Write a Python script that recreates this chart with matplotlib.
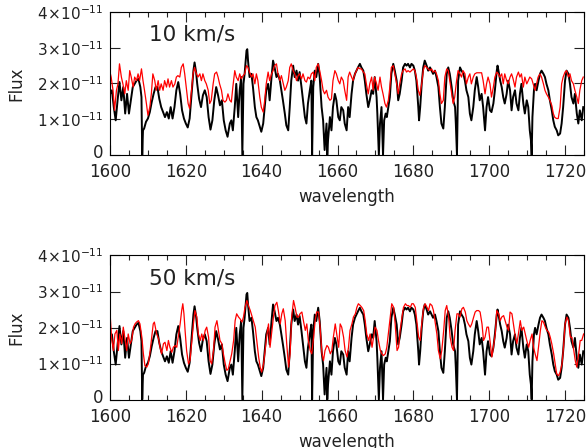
import matplotlib
matplotlib.use("Agg")
import matplotlib.pyplot as plt
from matplotlib.ticker import MultipleLocator
import matplotlib.transforms as mtransforms

# observed spectrum (flux in units of 1e-11)
wl_obs = [1600.0, 1600.5, 1601.0, 1601.5, 1602.0, 1602.5, 1603.0, 1603.5, 1604.0, 1604.5,
          1605.0, 1605.5, 1606.0, 1606.5, 1607.0, 1607.5, 1608.0, 1608.3, 1608.5, 1608.7,
          1609.0, 1609.5, 1610.0, 1610.5, 1611.0, 1611.5, 1612.0, 1612.5, 1613.0, 1613.5,
          1614.0, 1614.5, 1615.0, 1615.5, 1616.0, 1616.5, 1617.0, 1617.5, 1618.0, 1618.5,
          1619.0, 1619.5, 1620.0, 1620.5, 1621.0, 1621.5, 1622.0, 1622.3, 1622.7, 1623.0,
          1623.5, 1624.0, 1624.5, 1625.0, 1625.5, 1626.0, 1626.5, 1627.0, 1627.5, 1628.0,
          1628.5, 1629.0, 1629.5, 1630.0, 1630.5, 1631.0,
          1631.6, 1632.0, 1632.4, 1632.9, 1633.3, 1633.8, 1634.2, 1634.6, 1634.9, 1635.2,
          1635.5, 1636.0, 1636.2, 1636.4, 1636.8, 1637.3, 1637.7, 1638.2, 1638.6, 1639.0,
          1639.5, 1639.9, 1640.4, 1640.8, 1641.2, 1641.7, 1642.1, 1642.6, 1643.0, 1643.4,
          1643.9, 1644.3, 1644.8, 1645.2, 1645.6, 1646.1, 1646.5, 1647.0, 1647.4, 1647.8,
          1648.3, 1648.7, 1649.2, 1649.6, 1650.0, 1650.5, 1650.9, 1651.4, 1651.8, 1652.2,
          1652.7, 1653.1, 1653.3, 1653.6, 1654.0, 1654.4, 1654.9, 1655.3, 1655.8, 1656.2,
          1656.6, 1657.1, 1657.3, 1657.5, 1658.0, 1658.4, 1658.8, 1659.3, 1659.7, 1660.2,
          1660.6, 1661.0, 1661.5, 1661.9, 1662.4,
          1662.8, 1663.2, 1663.7, 1664.1, 1664.6, 1665.0, 1665.4, 1665.9, 1666.3, 1666.8,
          1667.2, 1667.6, 1668.1, 1668.5, 1669.0, 1669.4, 1669.8, 1670.3, 1670.5, 1670.9,
          1671.2, 1671.6, 1672.0, 1672.3, 1672.7, 1673.0, 1673.4, 1673.8, 1674.2, 1674.7,
          1675.1, 1675.6, 1676.0, 1676.4, 1676.9, 1677.3, 1677.8, 1678.2, 1678.6, 1679.1,
          1679.5, 1680.0, 1680.4, 1680.8, 1681.3, 1681.5, 1681.8, 1682.2, 1682.6, 1683.0,
          1683.5, 1683.9, 1684.4, 1684.8, 1685.2, 1685.7, 1686.1, 1686.6, 1687.0, 1687.4,
          1687.9, 1688.3, 1688.8, 1689.2, 1689.6, 1690.1, 1690.5, 1691.0, 1691.2, 1691.5,
          1691.8, 1692.3, 1692.7, 1693.2, 1693.6, 1694.0,
          1694.5, 1694.9, 1695.3, 1695.8, 1696.2, 1696.7, 1697.1, 1697.5, 1698.0, 1698.4,
          1698.9, 1699.3, 1699.7, 1700.2, 1700.6, 1701.1, 1701.5, 1702.0, 1702.2, 1702.6,
          1702.9, 1703.3, 1703.7, 1704.1, 1704.6, 1705.0, 1705.5, 1705.9, 1706.3, 1706.8,
          1707.2, 1707.7, 1708.1, 1708.5, 1709.0, 1709.4, 1709.9, 1710.3, 1710.7, 1711.0,
          1711.2, 1711.4, 1711.8, 1712.1, 1712.5, 1713.0, 1713.4, 1713.8, 1714.3, 1714.7,
          1715.1, 1715.6, 1716.0, 1716.5, 1716.9, 1717.3, 1717.8, 1718.2, 1718.7, 1719.1,
          1719.5, 1720.0, 1720.4, 1720.9, 1721.3, 1721.7, 1722.2, 1722.6, 1723.1, 1723.5,
          1723.9, 1724.4, 1724.8]
flux_obs = [1.70, 1.81, 1.34, 0.97, 1.53, 2.04, 1.53, 1.90, 1.16, 1.71,
            1.16, 1.53, 1.90, 1.99, 2.08, 2.13, 1.90, 1.62, 0.00, 0.69,
            0.74, 0.93, 1.02, 1.20, 1.48, 1.71, 1.90, 1.90, 1.57, 1.34,
            1.20, 1.06, 1.20, 1.02, 1.34, 1.02, 1.34, 1.81, 2.04, 1.71,
            1.25, 1.02, 0.88, 0.77, 1.02, 1.71, 2.36, 2.59, 2.32, 1.99,
            1.57, 1.34, 1.67, 1.81, 1.62, 1.06, 0.71, 0.97, 1.53, 1.90,
            1.67, 1.39, 1.53, 0.97, 0.69, 0.51,
            0.88, 0.97, 0.69, 1.34, 1.99, 1.06, 1.81, 2.18, 0.00, 1.99,
            2.27, 2.92, 2.96, 2.64, 2.18, 2.27, 1.90, 1.34, 1.06, 0.97,
            0.79, 0.65, 0.88, 1.34, 1.81, 1.99, 1.53, 2.18, 2.64, 2.45,
            2.18, 2.27, 2.08, 1.81, 1.53, 1.16, 0.83, 0.69, 1.34, 2.08,
            2.50, 2.18, 2.36, 2.08, 2.32, 1.90, 1.53, 1.06, 0.88, 1.44,
            1.81, 2.08, 0.00, 1.90, 2.36, 2.18, 2.55, 2.18, 1.34, 0.97,
            0.14, 0.88, 0.00, 0.42, 1.06, 0.69, 1.34, 1.71, 1.53, 1.06,
            0.97, 1.34, 1.25, 0.88, 0.69,
            1.34, 1.06, 1.71, 2.08, 2.27, 2.36, 2.45, 2.55, 2.45, 2.36,
            2.08, 1.71, 1.34, 1.53, 1.81, 1.71, 2.18, 1.62, 1.16, 0.00,
            0.88, 1.34, 0.00, 0.97, 1.16, 1.06, 1.34, 1.62, 2.27, 2.55,
            2.36, 2.08, 1.53, 1.71, 2.08, 2.45, 2.55, 2.50, 2.55, 2.45,
            2.55, 2.50, 2.36, 2.08, 1.34, 0.97, 1.34, 1.99, 2.45, 2.64,
            2.50, 2.36, 2.45, 2.36, 2.27, 2.36, 2.18, 1.90, 1.34, 0.88,
            0.74, 1.34, 2.27, 2.45, 2.27, 1.90, 1.53, 1.34, 0.88, 0.00,
            2.08, 2.45, 2.36, 2.27, 2.08, 1.81,
            1.62, 1.16, 0.97, 1.34, 1.81, 2.18, 1.90, 1.53, 1.71, 1.34,
            0.69, 1.34, 1.62, 1.25, 1.20, 1.44, 1.81, 2.36, 2.50, 2.27,
            2.08, 1.90, 1.62, 1.44, 1.71, 2.08, 1.81, 1.25, 1.62, 1.81,
            1.44, 1.25, 1.71, 1.99, 1.44, 1.16, 1.53, 1.34, 0.69, 0.42,
            0.00, 1.06, 1.81, 1.99, 1.81, 2.08, 2.27, 2.36, 2.27, 2.18,
            1.99, 1.81, 1.53, 1.25, 0.97, 0.79, 0.69, 0.55, 0.60, 0.88,
            1.34, 2.08, 2.36, 2.27, 1.99, 1.62, 1.44, 1.71, 1.16, 0.88,
            1.25, 0.97, 1.34]

# model broadened with 10 km/s
wl_10 = [1600.0, 1600.3, 1600.8, 1601.2, 1601.7, 1602.1, 1602.5, 1603.0, 1603.4, 1603.9,
         1604.3, 1604.8, 1605.2, 1605.6, 1606.1, 1606.5, 1607.0, 1607.4, 1607.8, 1608.3,
         1608.7, 1609.1, 1609.6, 1610.0, 1610.5, 1610.9, 1611.3, 1611.8, 1612.2, 1612.7,
         1613.1, 1613.5, 1614.0, 1614.4, 1614.9, 1615.3, 1615.7, 1616.2, 1616.6, 1617.1,
         1617.5, 1617.9, 1618.4, 1618.8, 1619.3, 1619.7, 1620.1, 1620.6, 1621.0, 1621.5,
         1621.9, 1622.3, 1622.8, 1623.2, 1623.7, 1624.1, 1624.5, 1625.0, 1625.4, 1625.9,
         1626.3, 1626.7, 1627.2, 1627.6, 1628.1, 1628.5, 1628.9, 1629.4, 1629.8, 1630.3,
         1630.7,
         1631.1, 1631.6, 1632.0, 1632.4, 1632.9, 1633.3, 1633.8, 1634.2, 1634.6, 1635.1,
         1635.5, 1636.0, 1636.4, 1636.8, 1637.3, 1637.7, 1638.2, 1638.6, 1639.0, 1639.5,
         1639.9, 1640.4, 1640.8, 1641.2, 1641.7, 1642.1, 1642.6, 1643.0, 1643.4, 1643.9,
         1644.3, 1644.8, 1645.2, 1645.6, 1646.1, 1646.5, 1647.0, 1647.4, 1647.8, 1648.3,
         1648.7, 1649.2, 1649.6, 1650.0, 1650.5, 1650.9, 1651.4, 1651.8, 1652.2, 1652.7,
         1653.1, 1653.6, 1654.0, 1654.4, 1654.9, 1655.3, 1655.8, 1656.2, 1656.6, 1657.1,
         1657.5, 1658.0, 1658.4, 1658.8, 1659.3, 1659.7, 1660.2, 1660.6, 1661.0, 1661.5,
         1661.9, 1662.4,
         1662.8, 1663.2, 1663.7, 1664.1, 1664.6, 1665.0, 1665.4, 1665.9, 1666.3, 1666.8,
         1667.2, 1667.6, 1668.1, 1668.5, 1669.0, 1669.4, 1669.8, 1670.3, 1670.7, 1671.2,
         1671.6, 1672.0, 1672.5, 1672.9, 1673.4, 1673.8, 1674.2, 1674.7, 1675.1, 1675.6,
         1676.0, 1676.4, 1676.9, 1677.3, 1677.8, 1678.2, 1678.6, 1679.1, 1679.5, 1680.0,
         1680.4, 1680.8, 1681.3, 1681.7, 1682.2, 1682.6, 1683.0, 1683.5, 1683.9, 1684.4,
         1684.8, 1685.2, 1685.7, 1686.1, 1686.6, 1687.0, 1687.4, 1687.9, 1688.3, 1688.8,
         1689.2, 1689.6, 1690.1, 1690.5, 1690.9, 1691.4, 1691.8, 1692.3, 1692.7, 1693.1,
         1693.6, 1694.0,
         1694.5, 1694.9, 1695.3, 1695.8, 1696.2, 1696.7, 1697.1, 1697.5, 1698.0, 1698.4,
         1698.9, 1699.3, 1699.7, 1700.2, 1700.6, 1701.1, 1701.5, 1702.0, 1702.4, 1702.8,
         1703.3, 1703.7, 1704.1, 1704.6, 1705.0, 1705.5, 1705.9, 1706.3, 1706.8, 1707.2,
         1707.7, 1708.1, 1708.5, 1709.0, 1709.4, 1709.9, 1710.3, 1710.7, 1711.2, 1711.6,
         1712.1, 1712.5, 1712.9, 1713.4, 1713.8, 1714.3, 1714.7, 1715.1, 1715.6, 1716.0,
         1716.5, 1716.9, 1717.3, 1717.8, 1718.2, 1718.7, 1719.1, 1719.5, 1720.0, 1720.4,
         1720.9, 1721.3, 1721.7, 1722.2, 1722.6, 1723.1, 1723.5, 1723.9, 1724.4, 1724.8]
flux_10 = [2.32, 2.18, 1.81, 1.25, 1.81, 1.99, 2.55, 2.18, 1.99, 1.71,
           2.08, 1.81, 2.36, 2.18, 1.90, 2.18, 2.08, 2.27, 2.08, 2.41,
           2.08, 1.81, 1.44, 1.11, 1.34, 1.71, 2.27, 2.08, 1.81, 2.08,
           1.81, 1.99, 1.81, 2.08, 1.90, 2.13, 1.90, 2.08, 1.90, 1.99,
           2.18, 2.22, 2.18, 2.45, 2.55, 2.27, 1.90, 1.44, 1.30, 1.81,
           2.27, 2.45, 2.27, 2.18, 2.27, 2.08, 2.27, 2.08, 1.99, 1.81,
           1.44, 1.53, 1.99, 2.27, 2.32, 2.18, 1.99, 1.81, 1.53, 1.48,
           1.53,
           1.71, 1.53, 1.48, 1.90, 2.36, 2.18, 2.08, 2.27, 2.13, 2.22,
           2.27, 2.50, 2.45, 2.32, 2.18, 2.27, 1.99, 2.27, 2.08, 1.62,
           1.34, 1.20, 1.53, 1.99, 2.32, 2.08, 2.27, 2.36, 2.50, 2.55,
           2.27, 2.08, 2.22, 2.04, 1.81, 1.90, 2.08, 2.45, 2.55, 2.36,
           2.27, 2.08, 2.22, 2.27, 2.13, 2.27, 2.08, 2.04, 2.18, 2.13,
           2.27, 2.32, 2.08, 2.45, 2.55, 2.36, 2.08, 1.81, 1.71, 1.81,
           1.62, 1.53, 1.57, 2.08, 2.36, 2.27, 2.08, 1.99, 2.18, 2.08,
           1.81, 1.53,
           2.18, 2.32, 2.18, 2.08, 2.27, 2.36, 2.45, 2.41, 2.41, 2.32,
           2.27, 1.99, 1.71, 1.99, 2.18, 1.81, 2.18, 1.99, 1.81, 2.18,
           1.90, 1.71, 1.44, 1.34, 1.53, 1.90, 2.45, 2.50, 2.27, 1.99,
           1.71, 1.99, 2.27, 2.36, 2.41, 2.32, 2.36, 2.32, 2.36, 2.41,
           2.36, 2.18, 1.81, 1.67, 1.99, 2.36, 2.50, 2.45, 2.41, 2.36,
           2.41, 2.32, 2.36, 2.27, 2.08, 1.71, 1.44, 1.53, 2.18, 2.41,
           2.36, 2.08, 1.71, 1.44, 1.62, 2.08, 2.36, 2.27, 2.18, 2.36,
           2.27, 1.99,
           2.18, 2.27, 1.99, 2.18, 2.27, 2.30, 2.30, 2.30, 2.30, 2.08,
           1.71, 1.99, 2.18, 1.99, 1.62, 1.90, 2.18, 2.32, 2.27, 2.18,
           2.27, 1.99, 2.27, 2.08, 1.99, 2.18, 2.27, 2.13, 1.90, 2.18,
           2.32, 2.18, 2.27, 1.90, 2.18, 1.99, 2.08, 2.18, 2.13, 1.99,
           1.81, 1.99, 2.18, 2.27, 2.18, 1.99, 1.81, 1.71, 1.62, 1.53,
           1.39, 1.16, 1.05, 1.02, 1.02, 1.34, 1.99, 2.18, 2.32, 2.36,
           2.18, 2.27, 2.08, 1.99, 1.81, 1.62, 1.44, 1.81, 2.08, 2.18]

# model broadened with 50 km/s
wl_50 = [1600.0, 1600.4, 1600.9, 1601.3, 1601.8, 1602.2, 1602.6, 1603.1, 1603.5, 1604.0,
         1604.4, 1604.8, 1605.3, 1605.7, 1606.2, 1606.6, 1607.0, 1607.5, 1607.9, 1608.4,
         1608.8, 1609.2, 1609.7, 1610.1, 1610.6, 1611.0, 1611.4, 1611.7, 1612.3, 1612.8,
         1613.2, 1613.6, 1614.1, 1614.5, 1615.0, 1615.4, 1615.8, 1616.3, 1616.7, 1617.2,
         1617.6, 1618.0, 1618.5, 1618.9, 1619.2, 1619.5, 1619.8, 1620.2, 1620.7, 1621.1,
         1621.6, 1622.0, 1622.4, 1622.9, 1623.3, 1623.8, 1624.2, 1624.6, 1625.1, 1625.5,
         1626.0, 1626.4, 1626.8, 1627.3, 1627.7, 1628.2, 1628.6, 1629.0, 1629.5, 1629.9,
         1630.4, 1630.8, 1631.2, 1631.7, 1632.1, 1632.6, 1633.0, 1633.4, 1633.9, 1634.3,
         1634.8, 1635.2, 1635.6, 1636.1, 1636.5, 1637.0, 1637.4, 1637.8, 1638.3, 1638.7,
         1639.2, 1639.6, 1640.0, 1640.5, 1640.9, 1641.4, 1641.8,
         1642.2, 1642.7, 1643.1, 1643.5, 1644.0, 1644.4, 1644.9, 1645.3, 1645.7, 1646.2,
         1646.6, 1647.1, 1647.5, 1647.9, 1648.4, 1648.8, 1649.3, 1649.7, 1650.1, 1650.6,
         1651.0, 1651.5, 1651.9, 1652.3, 1652.8, 1653.2, 1653.7, 1654.1, 1654.5, 1655.0,
         1655.4, 1655.9, 1656.3, 1656.7, 1657.2, 1657.6, 1658.1, 1658.5, 1658.9, 1659.4,
         1659.8, 1660.3, 1660.7, 1661.1, 1661.6, 1662.0, 1662.5, 1662.9, 1663.3, 1663.8,
         1664.2, 1664.7, 1665.1, 1665.5, 1666.0, 1666.4, 1666.9, 1667.3, 1667.7, 1668.2,
         1668.6, 1669.1, 1669.5, 1669.9, 1670.4, 1670.8, 1671.3, 1671.7, 1672.1, 1672.6,
         1673.0, 1673.5, 1673.9, 1674.3, 1674.8, 1675.2, 1675.7, 1676.1, 1676.5, 1677.0,
         1677.4, 1677.9, 1678.3, 1678.7, 1679.2, 1679.6, 1680.0, 1680.5, 1680.9, 1681.4,
         1681.8, 1682.2, 1682.7, 1683.1, 1683.6, 1684.0,
         1684.4, 1684.9, 1685.3, 1685.7, 1686.2, 1686.6, 1687.1, 1687.5, 1688.0, 1688.4,
         1688.8, 1689.3, 1689.7, 1690.2, 1690.6, 1691.0, 1691.5, 1691.9, 1692.3, 1692.8,
         1693.2, 1693.7, 1694.1, 1694.5, 1695.0, 1695.4, 1695.9, 1696.3, 1696.7, 1697.2,
         1697.6, 1698.1, 1698.5, 1698.9, 1699.4, 1699.8, 1700.3, 1700.7, 1701.1, 1701.6,
         1702.0, 1702.5, 1702.9, 1703.3, 1703.8, 1704.2, 1704.7, 1705.1, 1705.5, 1706.0,
         1706.4, 1706.9, 1707.3, 1707.7, 1708.2, 1708.6, 1709.1, 1709.5, 1709.9, 1710.4,
         1710.8, 1711.3, 1711.7, 1712.1, 1712.6, 1713.0, 1713.5, 1713.9, 1714.3, 1714.8,
         1715.2, 1715.7, 1716.1, 1716.5, 1717.0, 1717.4, 1717.8, 1718.3, 1718.7, 1719.2,
         1719.6, 1720.0, 1720.5, 1720.9, 1721.4, 1721.8, 1722.2, 1722.7, 1723.1, 1723.6,
         1724.0, 1724.4, 1724.9]
flux_50 = [2.43, 1.73, 1.36, 1.82, 1.92, 1.36, 1.82, 1.55, 2.01, 1.64,
           1.36, 1.82, 1.55, 1.64, 2.01, 2.10, 2.15, 2.19, 2.10, 1.73,
           1.27, 0.94, 0.90, 0.99, 1.36, 1.73, 2.10, 2.15, 1.82, 1.69,
           1.45, 1.27, 1.55, 1.59, 1.36, 1.64, 1.45, 1.31, 1.45, 1.50,
           1.45, 1.73, 2.10, 2.47, 2.66, 2.38, 1.92, 1.36, 0.99, 1.08,
           1.64, 2.10, 2.47, 2.29, 1.82, 1.64, 1.82, 1.64, 1.92, 2.01,
           1.73, 1.08, 0.99, 1.36, 2.01, 2.19, 1.92, 1.64, 1.55, 1.27,
           0.99, 0.81, 0.85, 1.08, 1.27, 1.64, 2.19, 2.38, 2.29, 2.24,
           2.15, 2.29, 2.56, 2.75, 2.61, 2.47, 2.33, 2.19, 2.01, 1.64,
           1.18, 0.90, 0.76, 0.99, 1.36, 1.82, 2.10,
           1.45, 1.92, 2.29, 2.61, 2.70, 2.47, 2.10, 2.38, 2.52, 2.19,
           1.55, 0.90, 1.27, 2.29, 2.75, 2.56, 2.29, 2.29, 2.38, 2.43,
           2.19, 1.92, 2.10, 1.64, 1.36, 1.27, 1.73, 2.19, 2.43, 2.43,
           2.01, 1.27, 1.08, 1.36, 1.50, 1.45, 1.27, 1.36, 1.73, 2.10,
           1.82, 1.45, 2.10, 2.01, 1.73, 1.36, 1.18, 1.45, 1.92, 2.10,
           2.29, 2.38, 2.56, 2.66, 2.61, 2.56, 2.47, 2.19, 1.82, 1.64,
           1.82, 1.45, 1.73, 2.01, 1.92, 1.64, 1.36, 1.27, 1.22, 1.27,
           1.45, 1.92, 2.29, 2.66, 2.56, 2.10, 1.36, 1.45, 1.92, 2.29,
           2.56, 2.66, 2.61, 2.61, 2.56, 2.66, 2.66, 2.56, 2.19, 1.73,
           1.64, 2.10, 2.56, 2.66, 2.56, 2.47,
           2.66, 2.61, 2.47, 2.19, 1.82, 1.36, 1.13, 1.36, 1.92, 2.47,
           2.61, 2.29, 1.73, 1.45, 1.36, 1.92, 2.38, 2.38, 2.29, 2.52,
           2.56, 2.43, 2.19, 2.10, 2.01, 2.10, 2.29, 2.43, 2.47, 2.47,
           2.43, 2.10, 1.64, 1.73, 2.01, 2.01, 1.55, 1.18, 1.45, 1.82,
           2.47, 2.38, 2.19, 2.29, 2.33, 2.19, 2.01, 1.92, 2.43, 2.38,
           2.10, 1.73, 1.55, 1.82, 2.19, 1.92, 2.01, 1.82, 1.64, 1.45,
           1.64, 1.82, 1.45, 1.27, 1.08, 1.45, 1.92, 2.19, 2.15, 2.01,
           1.92, 1.87, 1.73, 1.55, 1.27, 0.99, 0.71, 0.66, 0.76, 0.99,
           1.45, 2.10, 2.29, 2.19, 1.73, 1.73, 1.45, 1.08, 0.90, 1.27,
           1.64, 1.64, 1.82]

labels = ["10 km/s", "50 km/s"]
models = [(wl_10, flux_10), (wl_50, flux_50)]
yticks = [0, 1, 2, 3, 4]
yticklabels = ["0", r"$1\!\times\!10^{-11}$", r"$2\!\times\!10^{-11}$",
               r"$3\!\times\!10^{-11}$", r"$4\!\times\!10^{-11}$"]

plt.rcParams["font.family"] = "DejaVu Sans"
plt.rcParams["mathtext.fontset"] = "dejavusans"

fig = plt.figure(figsize=(5.88, 4.48), dpi=100)
boxes = [[110 / 588, 1 - 155 / 448, 474 / 588, 143 / 448],
         [110 / 588, 1 - 399.5 / 448, 474 / 588, 144 / 448]]
txtc = "#222222"

for box, lab, (wl_m, fl_m) in zip(boxes, labels, models):
    ax = fig.add_axes(box)
    ax.plot(wl_obs, flux_obs, color="black", lw=1.4)
    ax.plot(wl_m, fl_m, color="red", lw=0.9)
    ax.set_xlim(1600, 1725)
    ax.set_ylim(0, 4)
    ax.xaxis.set_major_locator(MultipleLocator(20))
    ax.xaxis.set_minor_locator(MultipleLocator(5))
    ax.set_yticks(yticks)
    ax.set_yticklabels(yticklabels)
    ax.tick_params(which="both", direction="in", top=True, right=True,
                   colors=txtc, width=0.8)
    ax.tick_params(which="major", length=7.5)
    ax.tick_params(which="minor", length=3.6)
    ax.tick_params(axis="x", pad=6, labelsize=12)
    ax.tick_params(axis="y", pad=5, labelsize=11)
    # lift the "0" label a little, as in the original
    zero = ax.get_yticklabels()[0]
    zero.set_transform(zero.get_transform() +
                       mtransforms.ScaledTranslation(0, 4 / 100, fig.dpi_scale_trans))
    zero.set_fontsize(12)
    for sp in ax.spines.values():
        sp.set_linewidth(0.8)
    ax.set_xlabel("wavelength", fontsize=12, labelpad=5, color=txtc)
    ax.set_ylabel("Flux", fontsize=12, color=txtc)
    ax.yaxis.set_label_coords(-0.179, 0.5)
    ax.text(0.082, 0.80, lab, transform=ax.transAxes, fontsize=15.5, color=txtc)

fig.savefig("out.png", dpi=100)
